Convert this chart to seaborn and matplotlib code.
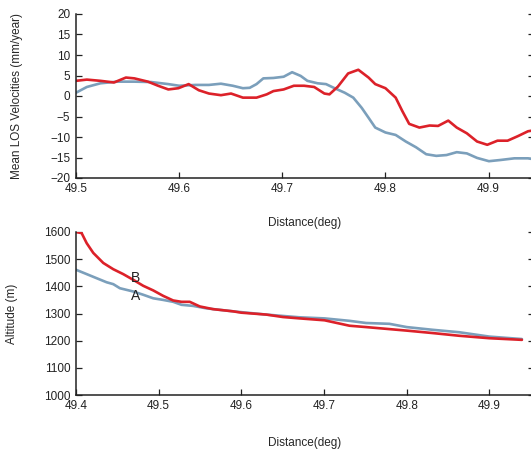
import numpy as np
import pandas as pd
import matplotlib
matplotlib.use("Agg")
import matplotlib.pyplot as plt
import seaborn as sns

# ---------------- data ----------------
# top panel: mean LOS velocities (mm/year) vs distance (deg)
top_blue_x = [49.500, 49.5105, 49.5237, 49.5401, 49.5566, 49.5730, 49.5895, 49.6000,
              49.6158, 49.6289, 49.6405, 49.6520, 49.6618, 49.6684, 49.6750, 49.6816,
              49.6914, 49.7013, 49.7095, 49.7178, 49.7243, 49.7342, 49.7424, 49.7507,
              49.7605, 49.7688, 49.7770, 49.7836, 49.7901, 49.8000, 49.8099, 49.8197,
              49.8296, 49.8395, 49.8493, 49.8592, 49.8691, 49.8789, 49.8888, 49.9003,
              49.9118, 49.9250, 49.9382, 49.9480]
top_blue_y = [0.8, 2.2, 3.1, 3.5, 3.5, 3.4, 2.9, 2.5,
              2.7, 2.7, 3.0, 2.5, 1.9, 2.0, 2.9, 4.3,
              4.4, 4.7, 5.8, 4.9, 3.7, 3.1, 2.9, 1.9,
              0.8, -0.4, -2.9, -5.3, -7.7, -8.9, -9.5, -11.1,
              -12.5, -14.2, -14.6, -14.4, -13.7, -14.0, -15.1, -15.9,
              -15.6, -15.2, -15.2, -15.6]

top_red_x = [49.500, 49.5105, 49.5237, 49.5368, 49.5484, 49.5566, 49.5697, 49.5796,
             49.5895, 49.5993, 49.6092, 49.6191, 49.6289, 49.6405, 49.6503, 49.6618,
             49.6750, 49.6849, 49.6914, 49.7013, 49.7112, 49.7211, 49.7309, 49.7408,
             49.7457, 49.7539, 49.7638, 49.7737, 49.7836, 49.7901, 49.8000, 49.8099,
             49.8164, 49.8230, 49.8329, 49.8428, 49.8510, 49.8609, 49.8691, 49.8789,
             49.8888, 49.8987, 49.9086, 49.9184, 49.9283, 49.9382, 49.9480]
top_red_y = [3.7, 4.0, 3.7, 3.3, 4.5, 4.3, 3.5, 2.5,
             1.6, 1.9, 2.9, 1.4, 0.6, 0.2, 0.6, -0.4,
             -0.4, 0.4, 1.2, 1.6, 2.5, 2.5, 2.2, 0.6,
             0.4, 2.3, 5.5, 6.4, 4.5, 2.9, 1.9, -0.4,
             -3.7, -6.8, -7.7, -7.2, -7.3, -6.0, -7.7, -9.1,
             -11.1, -11.9, -10.9, -10.9, -9.8, -8.6, -8.2]

# bottom panel: altitude (m) vs distance (deg)
bot_red_x = [49.4000, 49.4068, 49.4129, 49.4209, 49.4330, 49.4451, 49.4571, 49.4692,
             49.4813, 49.4934, 49.5054, 49.5175, 49.5276, 49.5376, 49.5497, 49.5658,
             49.5899, 49.6000, 49.6302, 49.6503, 49.6704, 49.7006, 49.7308, 49.7509,
             49.8000, 49.8314, 49.8636, 49.9000, 49.9394]
bot_red_y = [1600, 1596, 1559, 1523, 1486, 1463, 1445, 1424,
             1402, 1385, 1365, 1348, 1343, 1343, 1326, 1316,
             1308, 1303, 1296, 1287, 1282, 1275, 1255, 1250,
             1237, 1228, 1218, 1209, 1203]

bot_blue_x = [49.4000, 49.4129, 49.4249, 49.4370, 49.4451, 49.4531, 49.4692, 49.4813,
              49.4934, 49.5054, 49.5175, 49.5276, 49.5416, 49.5577, 49.5899, 49.6302,
              49.6704, 49.7006, 49.7308, 49.7509, 49.7791, 49.8000, 49.8314, 49.8636,
              49.9000, 49.9394]
bot_blue_y = [1461, 1445, 1430, 1415, 1408, 1393, 1381, 1369,
              1356, 1350, 1343, 1332, 1328, 1319, 1308, 1296,
              1286, 1282, 1273, 1265, 1262, 1250, 1240, 1231,
              1215, 1206]

top_yticks = [-20, -15, -10, -5, 0, 5, 10, 15, 20]
top_xticks = [49.5, 49.6, 49.7, 49.8, 49.9]
bot_yticks = [1000, 1100, 1200, 1300, 1400, 1500, 1600]
bot_xticks = [49.4, 49.5, 49.6, 49.7, 49.8, 49.9]
labels_ab = ["B", "A"]
labels_ab_x = [49.472, 49.472]
labels_ab_y = [1430, 1365]

RED = "#dc2129"
BLUE = "#7b9fbb"

# ---------------- style ----------------
sns.set_style("ticks", {
    "xtick.direction": "in",
    "ytick.direction": "in",
    "axes.edgecolor": "#222222",
})
plt.rcParams["font.family"] = ["Liberation Sans", "DejaVu Sans"]
plt.rcParams["axes.unicode_minus"] = True

fig = plt.figure(figsize=(5.31, 4.50), dpi=100)
W, H = 531.0, 450.0


def place(x0, y0, x1, y1):
    return [x0 / W, 1 - y1 / H, (x1 - x0) / W, (y1 - y0) / H]


ax1 = fig.add_axes(place(76, 14, 534, 178))
ax2 = fig.add_axes(place(76, 232, 534, 395))

df_top_b = pd.DataFrame({"x": top_blue_x, "y": top_blue_y})
df_top_r = pd.DataFrame({"x": top_red_x, "y": top_red_y})
df_bot_b = pd.DataFrame({"x": bot_blue_x, "y": bot_blue_y})
df_bot_r = pd.DataFrame({"x": bot_red_x, "y": bot_red_y})

sns.lineplot(data=df_top_b, x="x", y="y", ax=ax1, color=BLUE, lw=1.9, sort=False)
sns.lineplot(data=df_top_r, x="x", y="y", ax=ax1, color=RED, lw=1.9, sort=False)
sns.lineplot(data=df_bot_b, x="x", y="y", ax=ax2, color=BLUE, lw=1.9, sort=False)
sns.lineplot(data=df_bot_r, x="x", y="y", ax=ax2, color=RED, lw=1.9, sort=False)

for t, x, y in zip(labels_ab, labels_ab_x, labels_ab_y):
    ax2.text(x, y, t, fontsize=10, ha="center", va="center", color="#222222")

ax1.set_xlim(49.5, 49.944)
ax1.set_ylim(-20, 20)
ax1.set_xticks(top_xticks)
ax1.set_xticklabels([f"{v:.1f}" for v in top_xticks])
ax1.set_yticks(top_yticks)

ax2.set_xlim(49.4, 49.954)
ax2.set_ylim(1000, 1600)
ax2.set_xticks(bot_xticks)
ax2.set_xticklabels([f"{v:.1f}" for v in bot_xticks])
ax2.set_yticks(bot_yticks)

ax1.set_ylabel("Mean LOS Velocities (mm/year)", fontsize=8.5, va="center")
ax2.set_ylabel("Altitude (m)", fontsize=8.5, va="center")
ax1.set_xlabel("Distance(deg)", fontsize=8.5, va="center")
ax2.set_xlabel("Distance(deg)", fontsize=8.5, va="center")

# label positions (axes fractions) matched to the reference
ax1.yaxis.set_label_coords((17 - 76) / 458, 0.5)
ax2.yaxis.set_label_coords((12 - 76) / 458, 0.5)
ax1.xaxis.set_label_coords((305 - 76) / 458, (178 - 223) / 164)
ax2.xaxis.set_label_coords((305 - 76) / 458, (395 - 443) / 163)

for ax in (ax1, ax2):
    ax.spines["top"].set_visible(False)
    ax.spines["right"].set_visible(False)
    ax.spines["left"].set_linewidth(1.1)
    ax.spines["bottom"].set_linewidth(1.1)
    ax.tick_params(axis="both", which="major", labelsize=8.5, length=4,
                   width=0.9, color="#222222", labelcolor="#222222", pad=2)
    ax.tick_params(axis="y", right=True, pad=4)
    ax.tick_params(axis="x", pad=3.5)

fig.savefig("out.png", dpi=100)
